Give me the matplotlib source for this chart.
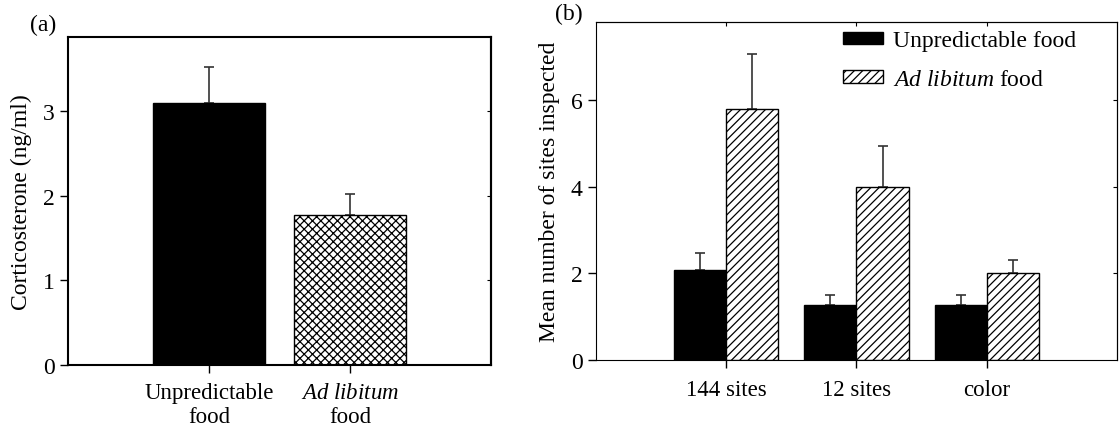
import numpy as np
import matplotlib
matplotlib.use("Agg")
from matplotlib import pyplot as plt

plt.rcParams['font.family'] = ['Liberation Serif', 'DejaVu Serif']
plt.rcParams['mathtext.fontset'] = 'custom'
plt.rcParams['mathtext.rm'] = 'Liberation Serif'
plt.rcParams['mathtext.it'] = 'Liberation Serif:italic'
plt.rcParams['font.size'] = 17
plt.rcParams['hatch.linewidth'] = 0.9

# panel (a): corticosterone
cort_labels = ["Unpredictable\nfood", "$\\mathit{Ad\\ libitum}$\nfood"]
cort_mean = [3.10, 1.77]
cort_err = [0.43, 0.25]

# panel (b): sites inspected
task_labels = ["144 sites", "12 sites", "color"]
unpred_mean = [2.08, 1.26, 1.26]
unpred_err = [0.40, 0.23, 0.23]
adlib_mean = [5.80, 4.00, 2.00]
adlib_err = [1.27, 0.94, 0.30]

fig = plt.figure(figsize=(11.19, 4.27), dpi=100)

# (a)
ax1 = fig.add_axes([0.0608, 0.1429, 0.378, 0.768])
x = np.arange(len(cort_mean))
ax1.bar(x, cort_mean, width=0.8, color=['black', 'white'], edgecolor='black',
        linewidth=1, hatch=[None, 'xxxx'], zorder=2)
ax1.errorbar(x, cort_mean, yerr=[np.zeros(len(cort_err)), cort_err], fmt='none',
             ecolor='#333333', elinewidth=1.2, capsize=3.5, capthick=1.2, zorder=1)
ax1.set_xlim(-1, 2)
ax1.set_ylim(0, 3.88)
ax1.set_xticks(x)
ax1.set_xticklabels(cort_labels, fontsize=16.5)
ax1.set_yticks([0, 1, 2, 3])
ax1.set_ylabel("Corticosterone (ng/ml)", labelpad=8)
ax1.tick_params(direction='out', length=6, width=1)
ax1.tick_params(axis='x', pad=6)
for s in ax1.spines.values():
    s.set_linewidth(1.5)
r1 = ax1.secondary_yaxis('right')
r1.set_yticks([1, 2, 3])
r1.tick_params(direction='in', length=3, labelright=False)
r1.spines['right'].set_linewidth(1.5)
fig.text(0.027, 0.94, "(a)", ha='left', va='center')

# (b)
ax2 = fig.add_axes([0.5326, 0.1546, 0.4656, 0.7916])
x = np.arange(len(task_labels))
w = 0.4
ax2.bar(x - w / 2, unpred_mean, width=w, color='black', edgecolor='black',
        linewidth=1, label="Unpredictable food", zorder=2)
ax2.bar(x + w / 2, adlib_mean, width=w, color='white', edgecolor='black',
        linewidth=1, hatch='////', label="$\\mathit{Ad\\ libitum}$ food", zorder=2)
ax2.errorbar(x - w / 2, unpred_mean, yerr=[np.zeros(3), unpred_err], fmt='none',
             ecolor='#333333', elinewidth=1.2, capsize=3.5, capthick=1.2, zorder=1)
ax2.errorbar(x + w / 2, adlib_mean, yerr=[np.zeros(3), adlib_err], fmt='none',
             ecolor='#333333', elinewidth=1.2, capsize=3.5, capthick=1.2, zorder=1)
ax2.set_xlim(-1, 3)
ax2.set_ylim(0, 7.8)
ax2.set_xticks(x)
ax2.set_xticklabels(task_labels, fontsize=16.5)
ax2.set_yticks([0, 2, 4, 6])
ax2.set_ylabel("Mean number of sites inspected", labelpad=8)
ax2.tick_params(direction='out', length=6, width=1)
ax2.tick_params(axis='x', pad=8)
r2 = ax2.secondary_yaxis('right')
r2.set_yticks([2, 4, 6])
r2.tick_params(direction='in', length=3, labelright=False)
t2 = ax2.secondary_xaxis('top')
t2.set_xticks(x)
t2.tick_params(direction='in', length=3, labeltop=False)
ax2.legend(loc='upper left', bbox_to_anchor=(0.474, 0.975), frameon=False,
           borderpad=0, borderaxespad=0, handlelength=1.7, handleheight=0.45,
           handletextpad=0.4, labelspacing=0.75)
fig.text(0.496, 0.965, "(b)", ha='left', va='center')

fig.savefig("out.png", dpi=100)
